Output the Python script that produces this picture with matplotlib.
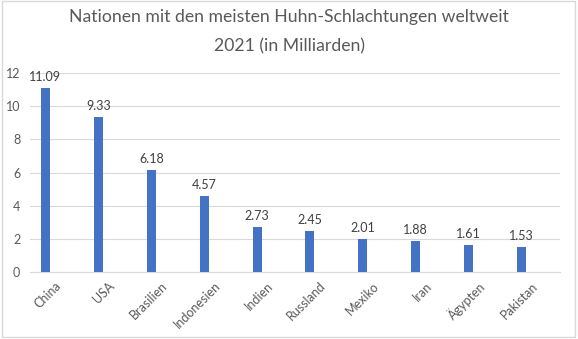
import matplotlib
matplotlib.use("Agg")
import matplotlib.pyplot as plt
import matplotlib.transforms as mtransforms
from matplotlib.patches import Rectangle

countries = ["China", "USA", "Brasilien", "Indonesien", "Indien",
             "Russland", "Mexiko", "Iran", "Ägypten", "Pakistan"]
slaughters = [11.09, 9.33, 6.18, 4.57, 2.73, 2.45, 2.01, 1.88, 1.61, 1.53]
y_ticks = [0, 2, 4, 6, 8, 10, 12]

plt.rcParams["font.family"] = ["Lato", "DejaVu Sans"]

fig = plt.figure(figsize=(5.78, 3.39), dpi=100)
ax = fig.add_axes([30 / 578, 67 / 339, 530 / 578, 199 / 339])

x = range(len(countries))
ax.bar(x, slaughters, width=0.17, color="#4472C4", zorder=3)
for xi, v in zip(x, slaughters):
    ax.text(xi, v + 0.3, f"{v:.2f}", ha="center", va="bottom",
            fontsize=9, color="#404040")

ax.set_xlim(-0.292, 9.726)
ax.set_ylim(0, 12)
ax.set_yticks(y_ticks)
ax.yaxis.grid(True, color="#d9d9d9", linewidth=0.8, zorder=0)
ax.set_xticks([])

# category labels drawn by hand: text end sits a little right of and below the bar foot
label_tf = ax.get_xaxis_transform() + mtransforms.ScaledTranslation(
    14 / 100, -12 / 100, fig.dpi_scale_trans)
for xi, name in zip(x, countries):
    ax.text(xi, 0, name, transform=label_tf, rotation=45, ha="right", va="center",
            rotation_mode="anchor", fontsize=9, color="#595959")

ax.tick_params(axis="y", labelsize=9, labelcolor="#595959", length=0, pad=7)
for side in ["top", "right", "left"]:
    ax.spines[side].set_visible(False)
ax.spines["bottom"].set_color("#d9d9d9")

fig.text(0.5, 1 - 17 / 339, "Nationen mit den meisten Huhn-Schlachtungen weltweit",
         ha="center", va="center", fontsize=12.7, color="#595959")
fig.text(0.5, 1 - 46 / 339, "2021 (in Milliarden)",
         ha="center", va="center", fontsize=12.7, color="#595959")

fig.patches.append(Rectangle((0.003, 0.006), 0.992, 0.99, transform=fig.transFigure,
                             fill=False, edgecolor="#d9d9d9", linewidth=1))

fig.savefig("out.png", dpi=100)
